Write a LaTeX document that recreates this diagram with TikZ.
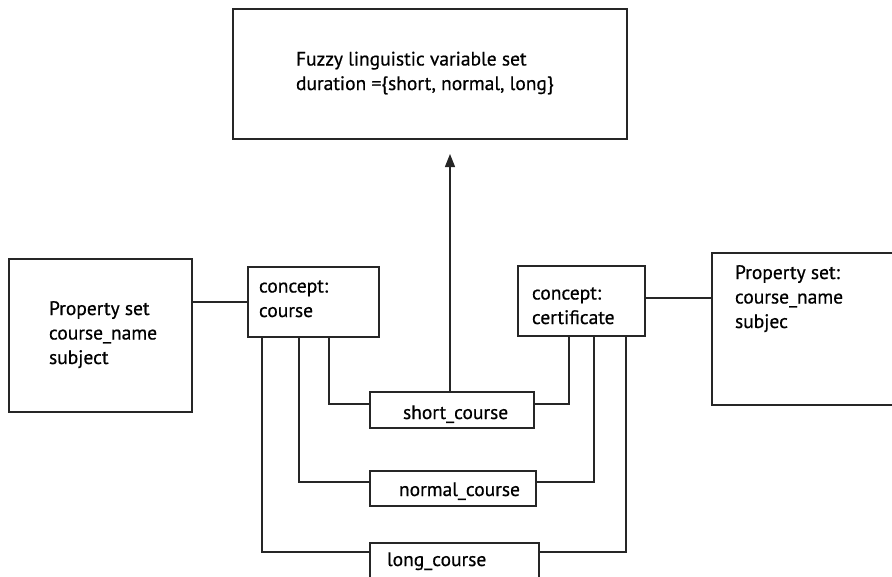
\documentclass[tikz,border=0pt]{standalone}
\usepackage{fontspec}
\setmainfont{PT Sans}[FakeBold=0.6]
\usetikzlibrary{arrows.meta}
\begin{document}
\begin{tikzpicture}[x=1pt,y=-1pt,
  line width=1.2pt,
  every node/.style={inner sep=0pt, outer sep=0pt},
  box/.style={draw=black!85, anchor=north west, rectangle},
  txt/.style={anchor=base west, align=left, font=\fontsize{19.5}{24.5}\selectfont, text=black},
  wire/.style={draw=black!85},
]
\useasboundingbox (0,0) rectangle (892,576);

% boxes
\node[box, minimum width=394pt, minimum height=130pt] (top)    at (233,9)   {};
\node[box, minimum width=183pt, minimum height=153pt] (propL)  at (9,259)   {};
\node[box, minimum width=131pt, minimum height=70pt]  (course) at (248,267) {};
\node[box, minimum width=127pt, minimum height=70pt]  (cert)   at (518,266) {};
\node[box, minimum width=186pt, minimum height=152pt] (propR)  at (712,253) {};
\node[box, minimum width=164pt, minimum height=36pt]  (short)  at (370,392) {};
\node[box, minimum width=166pt, minimum height=35pt]  (normal) at (370,471) {};
\node[box, minimum width=169pt, minimum height=38pt]  (long)   at (370,543) {};

% texts (anchored on the baseline of their last line)
\node[txt] (topT)    at (296,90)  {Fuzzy linguistic variable set\\duration =\{short, normal, long\}};
\node[txt] (propLT)  at (49,364)  {Property set\\course\_name\\subject};
\node[txt] (courseT) at (259,317) {concept:\\course};
\node[txt] (certT)   at (532,324) {concept:\\certificate};
\node[txt] (propRT)  at (735,328) {Property set:\\course\_name\\subjec};
\node[txt] (shortT)  at (403,419) {short\_course};
\node[txt] (normalT) at (399,496) {normal\_course};
\node[txt] (longT)   at (387,566) {long\_course};

% arrow towards the fuzzy variable set
\coordinate (tip) at (450,154);
\draw[wire, -{Triangle[length=13pt,width=10pt]}] ([xshift=-2pt]short.north) -- (tip);

% property sets
\draw[wire] (course.west) -- (course.west -| propL.east);
\draw[wire] ([yshift=3pt]cert.east) -- ([yshift=3pt]cert.east -| propR.west);

% concept: course to the three durations
\draw[wire] ([xshift=81pt]course.south west) |- ([yshift=-12pt]short.north west);
\draw[wire] ([xshift=51pt]course.south west) |- ([yshift=-11pt]normal.north west);
\draw[wire] ([xshift=14pt]course.south west) |- ([yshift=-9pt]long.north west);

% concept: certificate to the three durations
\draw[wire] ([xshift=51pt]cert.south west) |- ([yshift=-12pt]short.north east);
\draw[wire] ([xshift=76pt]cert.south west) |- ([yshift=-11pt]normal.north east);
\draw[wire] ([xshift=108pt]cert.south west) |- ([yshift=-9pt]long.north east);
\end{tikzpicture}
\end{document}
